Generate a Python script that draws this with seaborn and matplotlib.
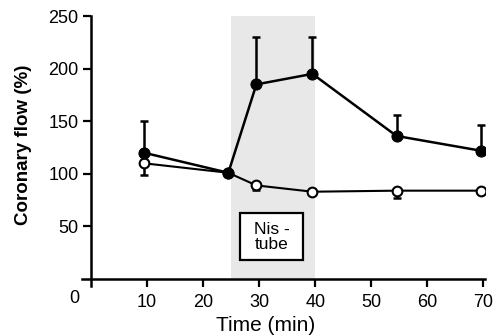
import numpy as np
import pandas as pd
import matplotlib
matplotlib.use("Agg")
import matplotlib.pyplot as plt
from matplotlib.patches import Rectangle
import seaborn as sns

# data
time = [9.5, 24.5, 29.5, 39.5, 54.5, 69.5]
flow_nis = [120, 101, 185, 195, 136, 122]
err_nis_up = [30, 0, 45, 35, 20, 24]
flow_ctrl = [110, 101, 89, 83, 84, 84]
err_ctrl_down = [11, 0, 4, 0, 7, 0]
x_ticks = [10, 20, 30, 40, 50, 60, 70]
y_ticks = [50, 100, 150, 200, 250]
shade_start, shade_end = 25, 40

sns.set_theme(style="white")
plt.rcParams["font.family"] = ["Liberation Sans", "DejaVu Sans"]
plt.rcParams["text.color"] = "black"
plt.rcParams["axes.labelcolor"] = "black"

df = pd.DataFrame({
    "time": time * 2,
    "flow": flow_nis + flow_ctrl,
    "group": ["nis"] * len(time) + ["ctrl"] * len(time),
})

fig = plt.figure(figsize=(4.94, 3.36), dpi=100)
ax = fig.add_axes([0.166, 0.1476, 0.816, 0.811])

ax.fill_between([shade_start, shade_end], 0, 250, color="#e8e8e8", lw=0, zorder=0)

ax.errorbar(time, flow_nis, yerr=[np.zeros(len(time)), err_nis_up], fmt="none",
            ecolor="black", elinewidth=1.8, capsize=3, capthick=1.8, zorder=2)
ax.errorbar(time, flow_ctrl, yerr=[err_ctrl_down, np.zeros(len(time))], fmt="none",
            ecolor="black", elinewidth=1.8, capsize=3, capthick=1.8, zorder=2)

sns.lineplot(data=df[df.group == "ctrl"], x="time", y="flow", ax=ax, color="black",
             lw=1.5, marker="o", markersize=7, markerfacecolor="white",
             markeredgecolor="black", markeredgewidth=1.5, zorder=3)
sns.lineplot(data=df[df.group == "nis"], x="time", y="flow", ax=ax, color="black",
             lw=1.8, marker="o", markersize=8, markerfacecolor="black",
             markeredgecolor="black", zorder=4)

# Nis-tube label box
ax.add_patch(Rectangle((26.6, 18), 11.3, 44.5, facecolor="white", edgecolor="black",
                       lw=1.6, zorder=5))
ax.text(32.25, 40, "Nis -\ntube", ha="center", va="center", fontsize=12.5,
        linespacing=1.05, zorder=6)

ax.set_xlim(-1.6, 70.3)
ax.set_ylim(-7, 252)
for s in ["top", "right"]:
    ax.spines[s].set_visible(False)
ax.spines["left"].set_position(("data", 0))
ax.spines["bottom"].set_position(("data", 0))
ax.spines["left"].set_bounds(-7, 250)
for s in ["left", "bottom"]:
    ax.spines[s].set_linewidth(1.8)
    ax.spines[s].set_color("black")

ax.set_xticks(x_ticks)
ax.set_yticks(y_ticks)
ax.tick_params(axis="both", direction="out", length=6, width=1.6, labelsize=13,
               colors="black", bottom=True, left=True)
ax.tick_params(axis="x", pad=5)
ax.tick_params(axis="y", pad=3)
ax.text(-2.9, -10, "0", ha="center", va="top", fontsize=13)

ax.set_xlabel("Time (min)", fontsize=15)
ax.set_ylabel("Coronary flow (%)", fontsize=13.5, fontweight="bold")
ax.yaxis.set_label_coords(-0.125, 0.52)
ax.xaxis.set_label_coords(0.455, -0.108)
ax.xaxis.label.set_va("top")

fig.savefig("out.png", dpi=100)
